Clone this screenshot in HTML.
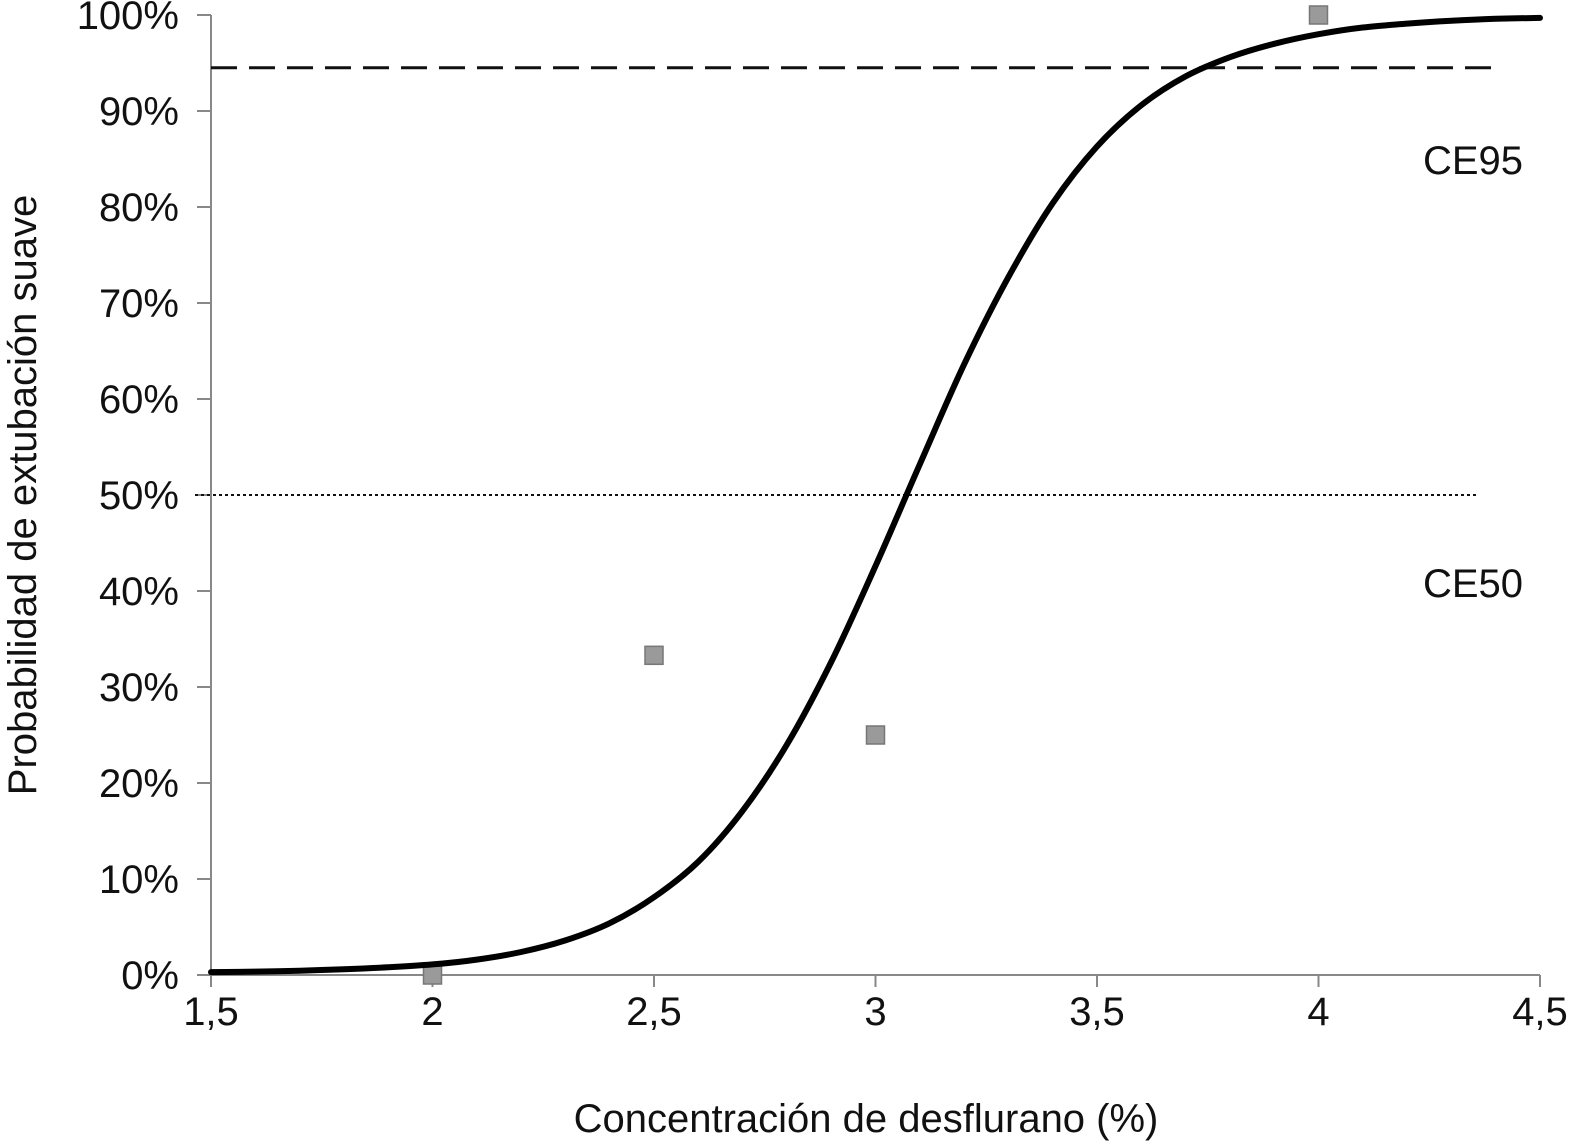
<!DOCTYPE html>
<html><head><meta charset="utf-8"><style>
html,body{margin:0;padding:0;background:#fff}
svg{display:block;font-family:"Liberation Sans",Arial,sans-serif}
</style></head><body>
<svg id="chart" width="1576" height="1148" viewBox="0 0 1576 1148" xmlns="http://www.w3.org/2000/svg">
<g id="axes"></g>
<g id="refs"></g>
<g id="marks"></g>
<text x="866" y="1132" font-size="40" text-anchor="middle" fill="#111">Concentración de desflurano (%)</text>
<text transform="translate(36,495) rotate(-90)" font-size="40" text-anchor="middle" fill="#111">Probabilidad de extubación suave</text>
<text x="1473" y="174" font-size="40" text-anchor="middle" fill="#111">CE95</text>
<text x="1473" y="597" font-size="40" text-anchor="middle" fill="#111">CE50</text>
</svg>
<script>
const xTicks=[1.5,2,2.5,3,3.5,4,4.5];
const xTickLabels=["1,5","2","2,5","3","3,5","4","4,5"];
const yTicks=[0,10,20,30,40,50,60,70,80,90,100];
const yTickLabels=["0%","10%","20%","30%","40%","50%","60%","70%","80%","90%","100%"];
const curveX=[1.5,1.6,1.7,1.8,1.9,2.0,2.1,2.2,2.3,2.4,2.5,2.6,2.7,2.8,2.9,3.0,3.1,3.2,3.3,3.4,3.5,3.6,3.7,3.8,3.9,4.0,4.1,4.2,4.3,4.4,4.5];
const curveY=[0.3,0.35,0.45,0.6,0.8,1.1,1.6,2.4,3.6,5.4,8.1,11.8,17.1,24.0,32.6,42.6,53.2,63.6,72.7,80.4,86.3,90.6,93.6,95.6,97.0,98.0,98.7,99.1,99.4,99.6,99.7];
const pointX=[2,2.5,3,4];
const pointY=[0,33.3,25,100];
const ce95=94.5, ce50=50;

const NS="http://www.w3.org/2000/svg";
const X=v=>211+(v-1.5)/3*1329;
const Y=v=>975-v/100*960;
function mk(tag,attrs,parent){const e=document.createElementNS(NS,tag);for(const k in attrs)e.setAttribute(k,attrs[k]);parent.appendChild(e);return e;}
const axes=document.getElementById('axes'),refs=document.getElementById('refs'),marks=document.getElementById('marks');

let l=mk('line',{x1:X(1.5),y1:Y(0),x2:X(4.5),y2:Y(0),stroke:'#888','stroke-width':2},axes);

l=mk('line',{x1:X(1.5),y1:Y(100),x2:X(1.5),y2:Y(0),stroke:'#888','stroke-width':2},axes);

xTicks.forEach((v,i)=>{
 const t=mk('line',{x1:X(v),y1:Y(0),x2:X(v),y2:Y(0)+12,stroke:'#888','stroke-width':2},axes);
 
 const tx=mk('text',{x:X(v),y:1025,'font-size':40,'text-anchor':'middle',fill:'#111'},axes);
 tx.textContent=xTickLabels[i];
 
});
yTicks.forEach((v,i)=>{
 const t=mk('line',{x1:X(1.5)-14,y1:Y(v),x2:X(1.5),y2:Y(v),stroke:'#888','stroke-width':2},axes);
 
 const tx=mk('text',{x:179,y:Y(v)+14,'font-size':40,'text-anchor':'end',fill:'#111'},axes);
 tx.textContent=yTickLabels[i];
 
});
l=mk('line',{x1:X(1.5),y1:Y(ce95),x2:1503,y2:Y(ce95),stroke:'#111','stroke-width':3,'stroke-dasharray':'26 12'},refs);

l=mk('line',{x1:195,y1:Y(ce50),x2:1478,y2:Y(ce50),stroke:'#111','stroke-width':2,'stroke-dasharray':'3 3'},refs);


pointX.forEach((v,i)=>{
 const r=mk('rect',{x:X(v)-9,y:Y(pointY[i])-9,width:18,height:18,fill:'#9a9a9a',stroke:'#777','stroke-width':1.5},marks);
 
});
// smooth Catmull-Rom path through the data points
const P=curveX.map((v,i)=>[X(v),Y(curveY[i])]);
let d='M'+P[0][0].toFixed(1)+' '+P[0][1].toFixed(1);
for(let i=0;i<P.length-1;i++){
 const p0=P[Math.max(0,i-1)],p1=P[i],p2=P[i+1],p3=P[Math.min(P.length-1,i+2)];
 const c1=[p1[0]+(p2[0]-p0[0])/6,p1[1]+(p2[1]-p0[1])/6];
 const c2=[p2[0]-(p3[0]-p1[0])/6,p2[1]-(p3[1]-p1[1])/6];
 d+=' C'+c1[0].toFixed(1)+' '+c1[1].toFixed(1)+' '+c2[0].toFixed(1)+' '+c2[1].toFixed(1)+' '+p2[0].toFixed(1)+' '+p2[1].toFixed(1);
}
const p=mk('path',{d:d,fill:'none',stroke:'#000','stroke-width':6,'stroke-linejoin':'round','stroke-linecap':'round'},marks);

</script>
</body></html>
